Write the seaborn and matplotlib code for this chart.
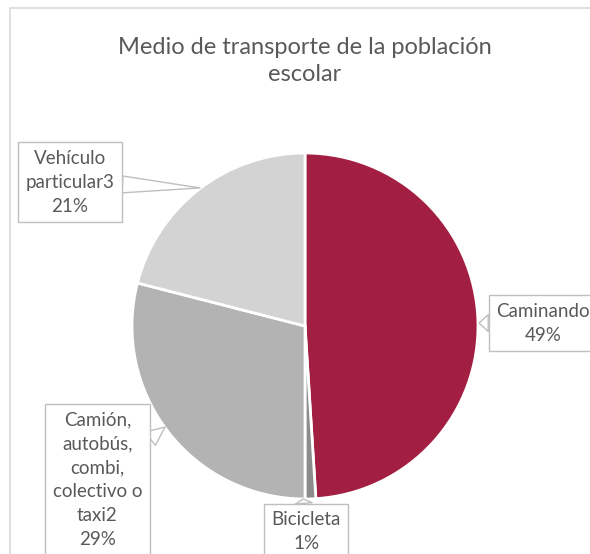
import matplotlib
matplotlib.use("Agg")
import matplotlib.pyplot as plt
import seaborn as sns
from matplotlib.patches import Rectangle

sns.set_theme(style="white")
plt.rcParams['font.family'] = ['Lato', 'DejaVu Sans']

# datos
categorias = ['Caminando', 'Bicicleta', 'Camión,\nautobús,\ncombi,\ncolectivo o\ntaxi2', 'Vehículo\nparticular3']
porcentajes = [49, 1, 29, 21]
colores = ['#A31F42', '#8C8C8C', '#B3B3B3', '#D3D3D3']

# posiciones de etiquetas (texto, punta) en unidades del radio
pos_texto = [(1.376, 0.017), (0.006, -1.19), (-1.2, -0.89), (-1.358, 0.832)]
pos_punta = [(1.006, 0.017), (-0.01, -1.0), (-0.809, -0.584), (-0.607, 0.798)]

W, H = 590, 554
fig = plt.figure(figsize=(W / 100, H / 100), dpi=100)
fig.patch.set_facecolor('white')

# borde del area del grafico
fig.patches.append(Rectangle((10 / W, -0.1), 1.2, 1 - 8 / H + 0.1, transform=fig.transFigure,
                             fill=False, edgecolor='#D9D9D9', linewidth=1.2))

cx, cy, r = 305, 326, 173
ax = fig.add_axes([(cx - r) / W, (H - cy - r) / H, 2 * r / W, 2 * r / H])
ax.pie(porcentajes, colors=colores, startangle=90, counterclock=False,
       wedgeprops=dict(edgecolor='white', linewidth=2))
ax.set_xlim(-1, 1)
ax.set_ylim(-1, 1)
ax.set_aspect('equal')
ax.axis('off')

for cat, p, (tx, ty), (px, py) in zip(categorias, porcentajes, pos_texto, pos_punta):
    ax.annotate(f'{cat}\n{p}%', xy=(px, py), xytext=(tx, ty),
                ha='center', va='center', fontsize=13.5, color='#595959',
                linespacing=1.5, annotation_clip=False,
                bbox=dict(boxstyle='square,pad=0.4', facecolor='white',
                          edgecolor='#BFBFBF', linewidth=1),
                arrowprops=dict(arrowstyle='wedge,tail_width=0.9,shrink_factor=0.5',
                                facecolor='white', edgecolor='#BFBFBF', linewidth=1,
                                shrinkA=0, shrinkB=0))

fig.text(305 / W, 1 - 61 / H, 'Medio de transporte de la población\nescolar',
         ha='center', va='center', fontsize=17, color='#595959', linespacing=1.4)

fig.savefig('out.png', dpi=100)
